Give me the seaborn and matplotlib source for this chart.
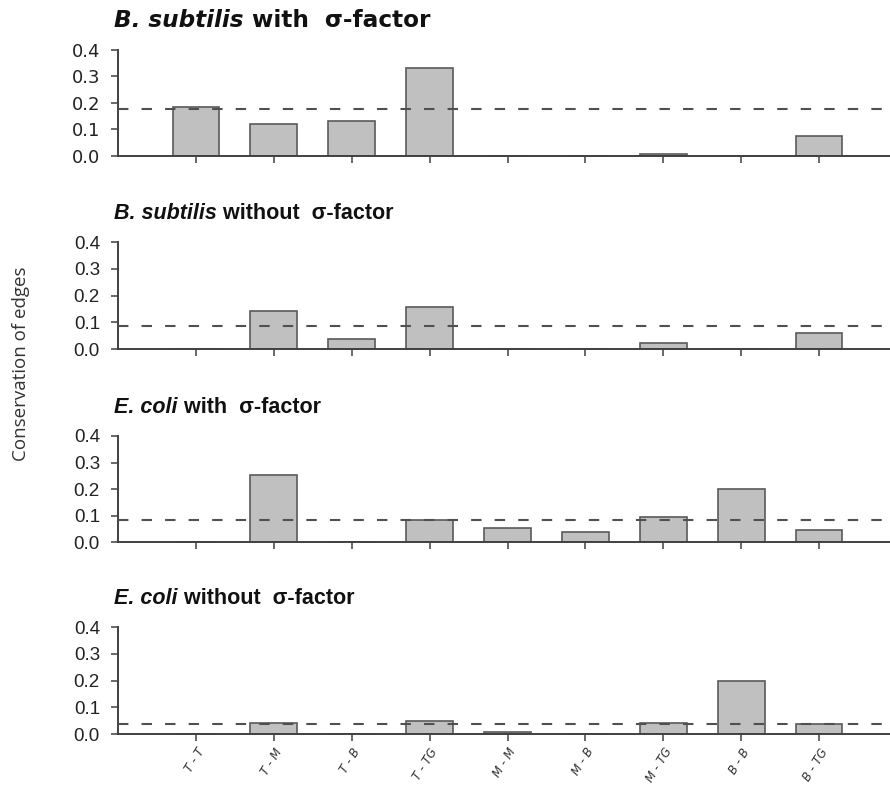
import matplotlib
matplotlib.use("Agg")
import matplotlib.pyplot as plt
import numpy as np
import pandas as pd
import seaborn as sns

# categorias de aristas
categories = ["T - T", "T - M", "T - B", "T - TG", "M - M", "M - B", "M - TG", "B - B", "B - TG"]

# conservacion de aristas por panel
bsub_with = [0.184, 0.120, 0.132, 0.333, 0.0, 0.0, 0.009, 0.0, 0.074]
bsub_without = [0.0, 0.142, 0.038, 0.157, 0.0, 0.0, 0.021, 0.0, 0.061]
ecoli_with = [0.0, 0.252, 0.0, 0.083, 0.051, 0.036, 0.093, 0.200, 0.044]
ecoli_without = [0.0, 0.040, 0.0, 0.049, 0.009, 0.0, 0.040, 0.198, 0.036]

# promedio (linea discontinua)
means = [0.176, 0.085, 0.084, 0.036]

species = ["B. subtilis", "B. subtilis", "E. coli", "E. coli"]
suffixes = [" with  σ-factor", " without  σ-factor", " with  σ-factor", " without  σ-factor"]
yticks = [0.0, 0.1, 0.2, 0.3, 0.4]

sns.set_style("ticks")

fig = plt.figure(figsize=(8.9, 7.87), dpi=100)

# posiciones de los ejes (fraccion de la figura)
boxes = [
    [0.1326, 0.8018, 0.8674, 0.1347],
    [0.1326, 0.5565, 0.8674, 0.1360],
    [0.1326, 0.3113, 0.8674, 0.1347],
    [0.1326, 0.0673, 0.8674, 0.1360],
]

panels = [bsub_with, bsub_without, ecoli_with, ecoli_without]

for i, (vals, box) in enumerate(zip(panels, boxes)):
    ax = fig.add_axes(box)
    df = pd.DataFrame({"edge": categories, "value": vals})
    sns.barplot(data=df, x="edge", y="value", order=categories, color="#c0c0c0",
                saturation=1, edgecolor="#5a5a5a", linewidth=1.2, width=0.6, ax=ax)
    ax.axhline(means[i], color="#505050", linewidth=1.5, dashes=(5, 6.3), zorder=5)

    ax.set_xlim(-1, 8.91)
    ax.set_ylim(0, 0.4)
    ax.set_ylabel("")
    ax.set_xlabel("")
    sns.despine(ax=ax)
    for s in ["left", "bottom"]:
        ax.spines[s].set_color("#404040")
        ax.spines[s].set_linewidth(1.4)
    ax.tick_params(axis="both", colors="#404040", length=5, width=1.1)
    ax.tick_params(axis="y", pad=8)

    if i == 0:
        ylab_font = dict(family="DejaVu Sans", size=13)
        title_font = dict(family="DejaVu Sans", size=16.7)
    else:
        ylab_font = dict(family="Liberation Sans", size=13.5)
        title_font = dict(family="Liberation Sans", size=15.5)
    ax.set_yticks(yticks)
    ax.set_yticklabels([f"{v:.1f}" for v in yticks], color="#222222", **ylab_font)

    ax.set_xticks(range(len(categories)))
    if i == 3:
        ax.set_xticklabels(categories, rotation=58, ha="right", rotation_mode="anchor",
                           style="italic", fontsize=8.5, color="#333333")
    else:
        ax.set_xticklabels([])

    # titulo: especie en cursiva negrita + resto en negrita
    t1 = ax.text(-0.005, 1.17, species[i], transform=ax.transAxes, fontweight="bold",
                 style="italic", va="bottom", ha="left", color="#111111", **title_font)
    ax.annotate(suffixes[i], xy=(1, 0), xycoords=t1, va="bottom", ha="left",
                fontweight="bold", color="#111111", **title_font)

fig.text(0.024, 0.5375, "Conservation of edges", rotation=90, va="center", ha="center",
         family="Open Sans", fontsize=13.5, color="#333333")

fig.savefig("out.png", dpi=100)
